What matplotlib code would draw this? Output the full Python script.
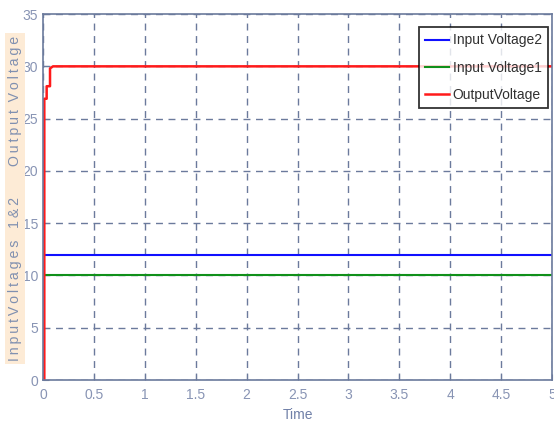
import matplotlib
matplotlib.use("Agg")
import matplotlib.pyplot as plt

# input / output voltages of the converter
t_out = [0, 0.013, 0.013, 0.036, 0.036, 0.069, 0.069, 0.098, 5]
v_out = [0, 0, 26.9, 26.9, 28.1, 28.1, 29.8, 30, 30]
t_in = [0, 5]
v_in2 = [12, 12]
v_in1 = [10, 10]

xticks = [0, 0.5, 1, 1.5, 2, 2.5, 3, 3.5, 4, 4.5, 5]
xticklabels = ["0", "0.5", "1", "1.5", "2", "2.5", "3", "3.5", "4", "4.5", "5"]
yticks = [0, 5, 10, 15, 20, 25, 30, 35]

plt.rcParams["font.family"] = ["Liberation Sans", "DejaVu Sans"]

axis_col = "#6b7a9c"
fig = plt.figure(figsize=(5.54, 4.29), dpi=100)
ax = fig.add_axes([0.0776, 0.1142, 0.919, 0.853])

ax.plot(t_in, v_in2, color="#1010ff", lw=1.5, label="Input Voltage2")
ax.plot(t_in, v_in1, color="#10901a", lw=1.5, label="Input Voltage1")
ax.plot(t_out, v_out, color="#ff1a1a", lw=1.8, label="OutputVoltage")

ax.set_xlim(0, 5)
ax.set_ylim(0, 35)
ax.set_xticks(xticks)
ax.set_xticklabels(xticklabels)
ax.set_yticks(yticks)
ax.grid(True, color=axis_col, linestyle=(0, (5, 4)), lw=1)
ax.tick_params(direction="in", colors=axis_col, labelsize=10, length=4,
               labelcolor="#8894b4")
ax.tick_params(axis="x", pad=6)
for s in ax.spines.values():
    s.set_color(axis_col)
    s.set_linewidth(1.2)

ax.set_xlabel("Time", color="#7080a8", fontsize=10, labelpad=4)

# spaced-out y label on a light beige strip
sp = "\u2009"
ylab = sp.join("InputVoltages") + "   " + sp.join("1&2") + "        " + sp.join("Output") + "  " + sp.join("Voltage")
fig.text(0.027, 0.537, ylab, rotation=90, ha="center", va="center",
         color="#8090b0", fontsize=10.2,
         bbox=dict(facecolor="#fdebd6", edgecolor="none", pad=2))

leg = ax.legend(loc="upper right", fontsize=10, frameon=True, fancybox=False,
                handlelength=1.7, handletextpad=0.3, borderpad=0.45,
                labelspacing=0.95, borderaxespad=0,
                bbox_to_anchor=(0.992, 0.964))
leg.get_frame().set_edgecolor("black")
leg.get_frame().set_linewidth(1.3)
for txt in leg.get_texts():
    txt.set_color("#303030")

fig.savefig("out.png", dpi=100)
